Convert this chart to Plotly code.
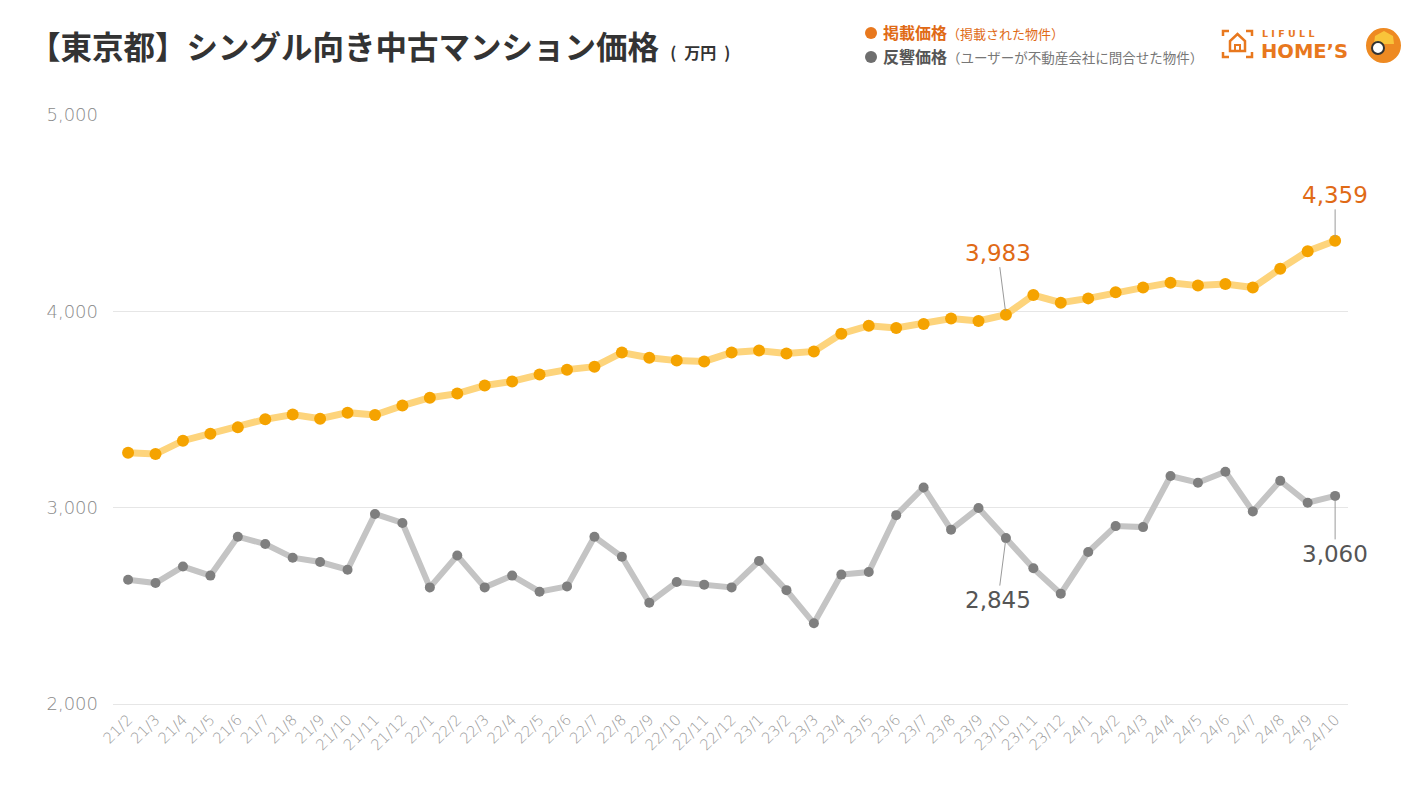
import plotly.graph_objects as go

months = ["21/2","21/3","21/4","21/5","21/6","21/7","21/8","21/9","21/10","21/11","21/12",
          "22/1","22/2","22/3","22/4","22/5","22/6","22/7","22/8","22/9","22/10","22/11","22/12",
          "23/1","23/2","23/3","23/4","23/5","23/6","23/7","23/8","23/9","23/10","23/11","23/12",
          "24/1","24/2","24/3","24/4","24/5","24/6","24/7","24/8","24/9","24/10"]

listing_price = [3280, 3273, 3341, 3377, 3409, 3450, 3474, 3453, 3484, 3472, 3520,
                 3560, 3581, 3622, 3643, 3678, 3703, 3718, 3790, 3764, 3749, 3745, 3790,
                 3800, 3785, 3796, 3886, 3927, 3915, 3935, 3963, 3951, 3983, 4083, 4044,
                 4066, 4097, 4121, 4146, 4131, 4139, 4121, 4217, 4306, 4359]

response_price = [2633, 2616, 2700, 2654, 2852, 2815, 2745, 2723, 2684, 2968, 2922,
                  2594, 2756, 2594, 2654, 2572, 2599, 2852, 2750, 2516, 2621, 2608, 2594,
                  2728, 2580, 2411, 2659, 2672, 2962, 3103, 2888, 2998, 2845, 2691, 2562,
                  2774, 2906, 2901, 3161, 3127, 3183, 2981, 3137, 3025, 3060]

y_ticks = [2000, 3000, 4000, 5000]
y_tick_text = ["2,000", "3,000", "4,000", "5,000"]

W, H = 1411, 794
L, R, T, B = 113, 1348, 115, 704

def px(x):
    return (x - L) / (R - L)

def py(y):
    return (B - y) / (B - T)

ORANGE_TXT = "#E06A16"
GRAY_TXT = "#555555"
JP = "Noto Sans CJK JP"
NUM = "DejaVu Sans"
THIN = "DejaVu Sans ExtraLight, DejaVu Sans"
EN = "\u2002"
TH = "\u2009"

fig = go.Figure()
fig.add_trace(go.Scatter(
    x=months, y=response_price, mode="lines+markers",
    line=dict(color="#C4C4C4", width=6),
    marker=dict(color="#7F7F7F", size=10),
    hoverinfo="skip", showlegend=False))
fig.add_trace(go.Scatter(
    x=months, y=listing_price, mode="lines+markers",
    line=dict(color="#FDD47C", width=7),
    marker=dict(color="#F5A300", size=12),
    hoverinfo="skip", showlegend=False))

annotations = []

# Title
annotations.append(dict(
    xref="paper", yref="paper", x=px(27), y=py(45), xanchor="left", yanchor="middle",
    text=("<b>【東京都】シングル向き中古マンション価格"
          f"<span style='font-size:16px'>{EN}{TH}({EN}万円{EN})</span></b>"),
    showarrow=False, font=dict(family=JP, size=31.5, color="#333333")))

# Legend
annotations.append(dict(
    xref="paper", yref="paper", x=px(881), y=py(32), xanchor="left", yanchor="middle",
    text="<b>掲載価格</b><span style='font-size:13px'>（掲載された物件）</span>",
    showarrow=False, font=dict(family=JP, size=16, color=ORANGE_TXT)))
annotations.append(dict(
    xref="paper", yref="paper", x=px(881), y=py(56), xanchor="left", yanchor="middle",
    text="<b>反響価格</b><span style='font-size:13.5px;color:#777777'>（ユーザーが不動産会社に問合せた物件）</span>",
    showarrow=False, font=dict(family=JP, size=16, color="#555555")))

# Logo text
annotations.append(dict(
    xref="paper", yref="paper", x=px(1260), y=py(33), xanchor="left", yanchor="middle",
    text="<b>L I F U L L</b>", showarrow=False,
    font=dict(family="DejaVu Sans", size=9.5, color="#E8781E")))
annotations.append(dict(
    xref="paper", yref="paper", x=px(1259), y=py(52), xanchor="left", yanchor="middle",
    text="<b>HOME’S</b>", showarrow=False,
    font=dict(family="DejaVu Sans", size=19.5, color="#E8781E")))

# Value callouts
idx_a = months.index("23/10")
idx_b = months.index("24/10")
callouts = [
    (months[idx_a], listing_price[idx_a], -8, -62, ORANGE_TXT),
    (months[idx_b], listing_price[idx_b], 0, -46, ORANGE_TXT),
    (months[idx_a], response_price[idx_a], -8, 62, GRAY_TXT),
    (months[idx_b], response_price[idx_b], 0, 58, GRAY_TXT),
]
for xm, val, ax, ay, col in callouts:
    annotations.append(dict(
        x=xm, y=val, xref="x", yref="y", text=f"{val:,}",
        showarrow=True, arrowhead=0, arrowwidth=1, arrowcolor="#9A9A9A",
        ax=ax, ay=ay, standoff=4,
        font=dict(family=NUM, size=23, color=col)))

shapes = []
# legend dots
for cy, col in [(33, "#E8781E"), (57, "#6E6E6E")]:
    shapes.append(dict(type="circle", xref="paper", yref="paper",
                       x0=px(865), x1=px(877), y0=py(cy + 6), y1=py(cy - 6),
                       fillcolor=col, line=dict(width=0)))

def path(points, close=False):
    s = "M " + " L ".join(f"{px(x)},{py(y)}" for x, y in points)
    return s + (" Z" if close else "")

logo_col = "#E8781E"
for pts in [[(1223, 36), (1223, 31), (1229, 31)],
            [(1246, 31), (1252, 31), (1252, 36)],
            [(1223, 52), (1223, 57), (1229, 57)],
            [(1246, 57), (1252, 57), (1252, 52)]]:
    shapes.append(dict(type="path", xref="paper", yref="paper", path=path(pts),
                       line=dict(color=logo_col, width=2.5)))
shapes.append(dict(type="path", xref="paper", yref="paper",
                   path=path([(1230, 51), (1230, 41), (1237.5, 34), (1245, 41), (1245, 51)], close=True),
                   line=dict(color=logo_col, width=2.5)))
shapes.append(dict(type="path", xref="paper", yref="paper",
                   path=path([(1235, 51), (1235, 45), (1240, 45), (1240, 51)]),
                   line=dict(color=logo_col, width=2)))
# mascot
shapes.append(dict(type="circle", xref="paper", yref="paper",
                   x0=px(1366), x1=px(1401), y0=py(63), y1=py(28),
                   fillcolor="#EE8A22", line=dict(width=0)))
shapes.append(dict(type="path", xref="paper", yref="paper",
                   path=path([(1374, 44), (1375, 36), (1384, 31), (1393, 36), (1394, 44)], close=True),
                   fillcolor="#F9C43A", line=dict(width=0)))
shapes.append(dict(type="circle", xref="paper", yref="paper",
                   x0=px(1372), x1=px(1384), y0=py(54), y1=py(42),
                   fillcolor="#FFFFFF", line=dict(color="#333333", width=2)))

fig.update_layout(
    width=W, height=H,
    margin=dict(l=L, r=W - R, t=T, b=H - B, autoexpand=False),
    paper_bgcolor="white", plot_bgcolor="white",
    hovermode=False,
    annotations=annotations,
    shapes=shapes,
    xaxis=dict(type="category", range=[-0.55, len(months) - 1 + 0.47],
               showgrid=False, zeroline=False, showline=True, linecolor="#E6E6E6", linewidth=1,
               tickangle=-45, ticks="",
               tickfont=dict(family=THIN, size=15, color="#9A9A9A", weight=200)),
    yaxis=dict(range=[2000, 5000], tickvals=y_ticks, ticktext=y_tick_text,
               showgrid=True, gridcolor="#E6E6E6", gridwidth=1, zeroline=False,
               showline=False, ticks="", ticklabelstandoff=14,
               tickfont=dict(family=THIN, size=18, color="#8A8A8A", weight=200)),
)

fig.write_html("out.html", config={"displayModeBar": False},
               post_script="document.body.style.margin='0';document.body.style.padding='0';")
